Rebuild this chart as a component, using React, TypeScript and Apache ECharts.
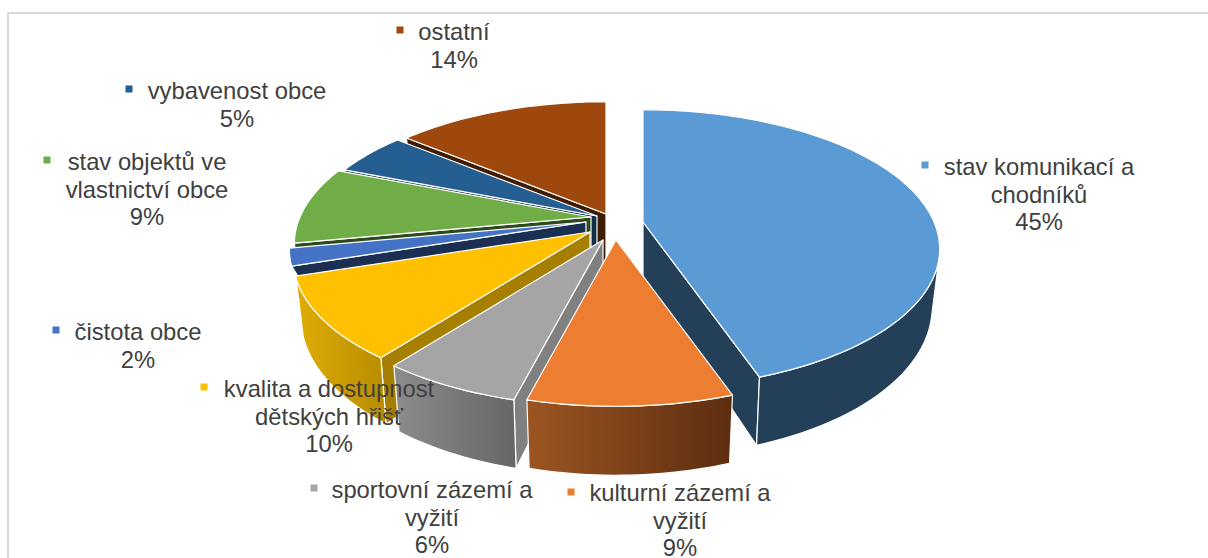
import React, { useEffect, useRef } from "react";
import * as echarts from "echarts";

const names = [
  "stav komunikací a\nchodníků",
  "kulturní zázemí a\nvyžití",
  "sportovní zázemí a\nvyžití",
  "kvalita a dostupnost\ndětských hřišť",
  "čistota obce",
  "stav objektů ve\nvlastnictví obce",
  "vybavenost obce",
  "ostatní",
];
const values = [44.7, 9.3, 6.4, 9.6, 2, 9, 5, 14];
const topColors = ["#5B9BD5", "#ED7D31", "#A5A5A5", "#FFC000", "#4472C4", "#70AD47", "#255E91", "#9E480E"];
const edgeColors = ["#243F58", "#5E2E0E", "#808080", "#A67E00", "#1B2F52", "#2D4A1C", "#112C45", "#3F1C05"];
const wallLeft = ["#243F58", "#9C5522", "#8C8C8C", "#E0AC05", "#1B2F52", "#2D4A1C", "#112C45", "#3F1C05"];
const wallRight = ["#243F58", "#5C2D10", "#666666", "#B88C00", "#1B2F52", "#2D4A1C", "#112C45", "#3F1C05"];
// slice apex on screen after explosion
const apexX = [643, 616, 603, 590, 586, 591, 597, 606];
const apexY = [222, 240, 240, 232, 222, 217, 216, 214];
const edgeDepth = [1, 1, 1, 1, 0.2, 1, 1, 1];
const paintOrder = [7, 6, 5, 4, 3, 0, 2, 1];
const labelX = [1039, 680, 432, 329, 138, 147, 237, 454];
const labelY = [153, 479, 476, 375, 318, 148, 77, 18];
const markerX = [925, 571, 314, 204, 56, 47, 129, 400];
const markerY = [165, 492, 488, 387, 330, 160, 89, 30];

const R = 291, T = 134, K = 0.194, DEPTH = 55, DEPTH_V = 14, SHRINK = 0.975;
const WALL_FROM = (105 * Math.PI) / 180, WALL_TO = (251.5 * Math.PI) / 180;
const total = values.reduce((a, b) => a + b, 0);
const startAngles = values.map((_, i) => (values.slice(0, i).reduce((a, b) => a + b, 0) / total) * Math.PI * 2);

function top(i: number, a: number, r = 1): number[] {
  const u = Math.sin(a) * r, v = -Math.cos(a) * r, d = 1 - K * v;
  return [apexX[i] + (R * u) / d, apexY[i] + (T * v) / d];
}
function low(i: number, a: number, r = 1, f = 1): number[] {
  const u = Math.sin(a) * r, v = -Math.cos(a) * r, d = 1 - K * v;
  return [apexX[i] + ((R * u) / d) * SHRINK, apexY[i] + (T * v) / d + (DEPTH + DEPTH_V * v) * f];
}
function arc(fn: (a: number) => number[], a: number, b: number): number[][] {
  const n = Math.max(4, Math.ceil((b - a) * 40));
  const out: number[][] = [];
  for (let k = 0; k <= n; k++) out.push(fn(a + ((b - a) * k) / n));
  return out;
}

function renderSlice(_: any, api: any) {
  const i = api.value(0);
  const a = startAngles[i];
  const b = a + (values[i] / total) * Math.PI * 2;
  const stroke = { stroke: "#fff", lineWidth: 1.2, lineJoin: "round" };
  const poly = (points: number[][], fill: any) => ({ type: "polygon", shape: { points }, style: { fill, ...stroke } });
  const wall = (t: number) =>
    poly([top(i, t, 0), top(i, t), low(i, t, 1, edgeDepth[i]), low(i, t, 0, edgeDepth[i])], edgeColors[i]);
  const children: any[] = [];
  if (Math.sin(a) < -0.01) children.push(wall(a));
  if (Math.sin(b) > 0.01) children.push(wall(b));
  const wa = Math.max(a, WALL_FROM), wb = Math.min(b, WALL_TO);
  if (wb > wa) {
    children.push(
      poly(
        [...arc((t) => top(i, t), wa, wb), ...arc((t) => low(i, t), wa, wb).reverse()],
        new echarts.graphic.LinearGradient(0, 0, 1, 0, [
          { offset: 0, color: wallLeft[i] },
          { offset: 1, color: wallRight[i] },
        ])
      )
    );
  }
  children.push(poly([top(i, 0, 0), ...arc((t) => top(i, t), a, b)], topColors[i]));
  return { type: "group", children };
}

export default function App() {
  const ref = useRef<HTMLDivElement>(null);
  useEffect(() => {
    const chart = echarts.init(ref.current!, null, { renderer: "svg" });
    const graphics: any[] = [
      { type: "rect", z: 1, shape: { x: 8, y: 13, width: 1300, height: 700 }, style: { fill: "#fff", stroke: "#D9D9D9", lineWidth: 2 } },
    ];
    names.forEach((name, i) => {
      graphics.push({
        type: "text",
        z: 20,
        x: labelX[i],
        y: labelY[i],
        style: {
          text: `${name}\n${Math.round(values[i])}%`,
          fill: "#404040",
          font: '23.8px "Liberation Sans", Arial, sans-serif',
          lineHeight: 27.5,
          align: "center",
          verticalAlign: "top",
        },
      });
      graphics.push({
        type: "rect",
        z: 20,
        shape: { x: markerX[i] - 3.5, y: markerY[i] - 3.5, width: 7, height: 7 },
        style: { fill: topColors[i] },
      });
    });
    chart.setOption({
      animation: false,
      backgroundColor: "#fff",
      graphic: graphics,
      series: [
        {
          type: "custom",
          coordinateSystem: "none",
          z: 5,
          silent: true,
          renderItem: renderSlice,
          data: paintOrder.map((i) => [i]),
        },
      ],
    });
    return () => chart.dispose();
  }, []);
  return <div ref={ref} style={{ position: "absolute", left: 0, top: 0, width: 1208, height: 558 }} />;
}
